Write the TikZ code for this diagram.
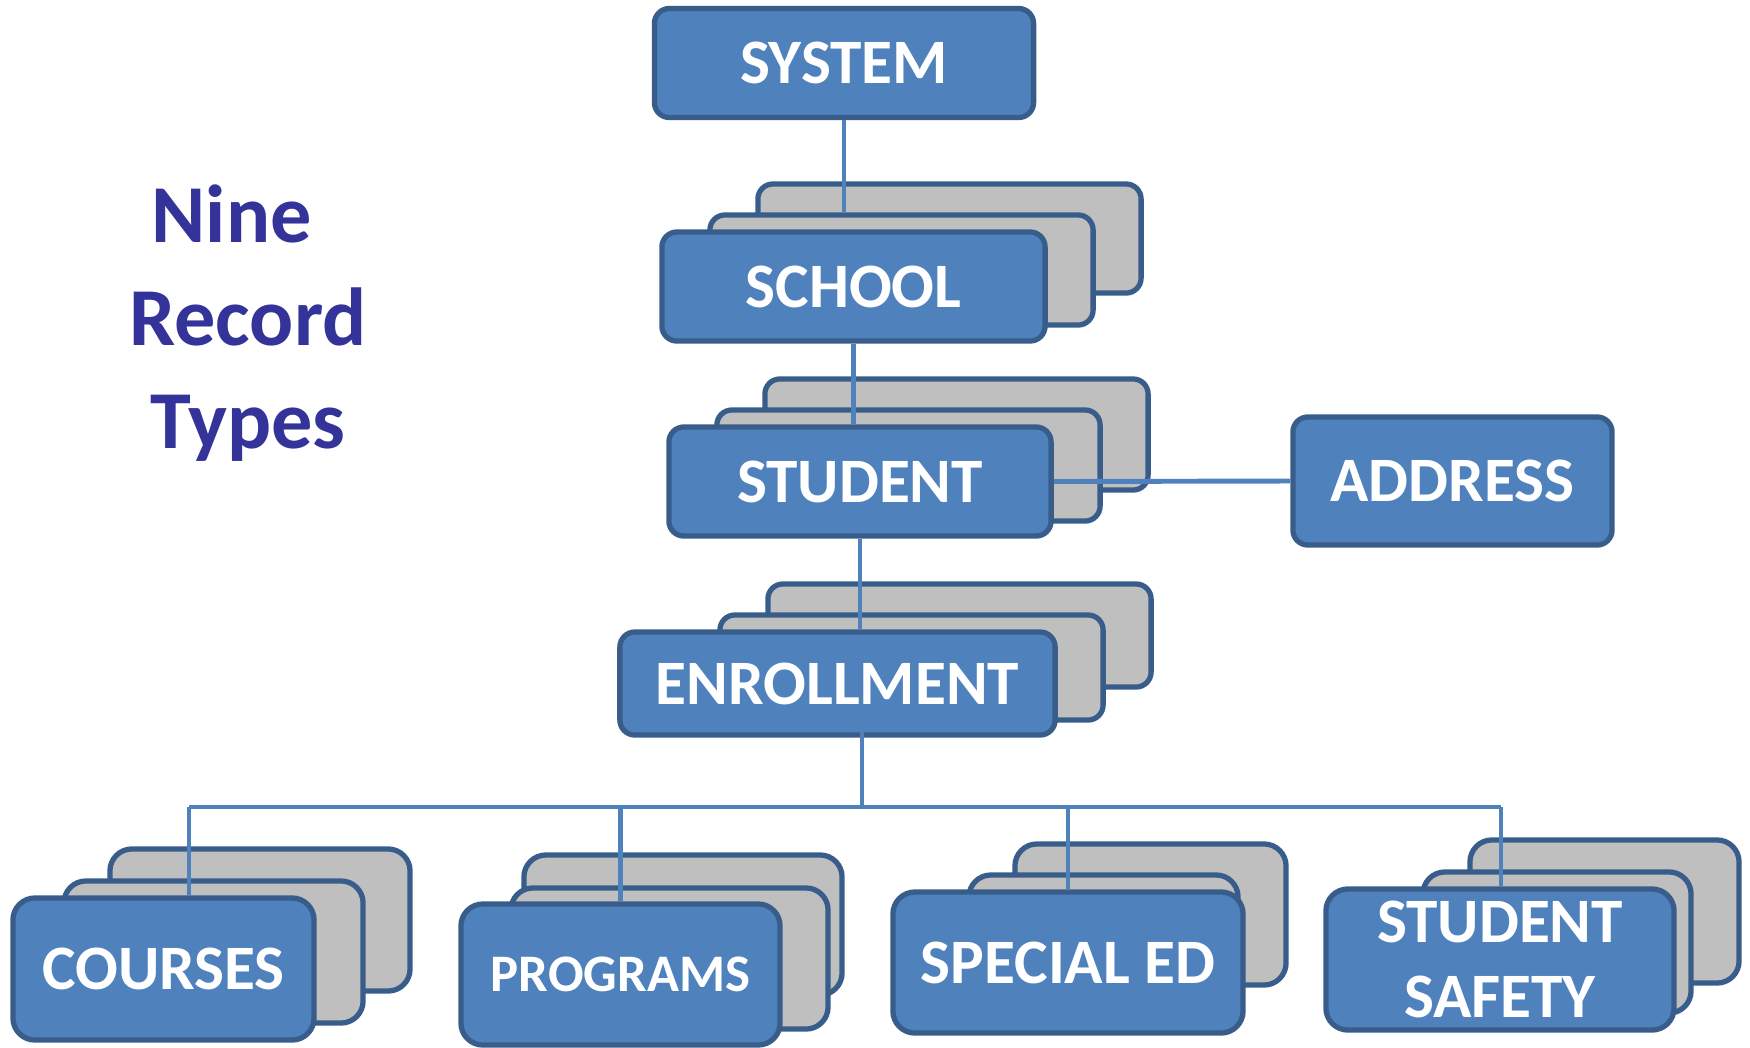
\documentclass[tikz,border=0pt]{standalone}
\usepackage{fontspec}
\setmainfont{Carlito}
\usepackage{tikz}
\definecolor{recblue}{RGB}{79,129,189}
\definecolor{recedge}{RGB}{56,93,138}
\definecolor{recgray}{RGB}{191,191,191}
\definecolor{recink}{RGB}{51,51,153}
\tikzset{
  rec/.style={draw=recedge, line width=1.5pt, fill=recblue, rounded corners=0.15cm,
    inner sep=0pt, text=white, align=center,
    font=\fontsize{18}{21.3}\selectfont\bfseries},
  card/.style={rec, fill=recgray},
  low/.style={rounded corners=0.22cm},
  link/.style={draw=recblue, line width=1.4pt}
}

\begin{document}
\begin{tikzpicture}[x=0.01cm, y=-0.01cm]
\useasboundingbox (0,0) rectangle (1750,1047);

\node[text=recink, align=center, font=\fontsize{23.4}{29.2}\selectfont\bfseries] (title)
  at (248,323) {Nine\hspace*{0.4em}\\Record\\Types};

\node[rec, minimum width=3.79cm, minimum height=1.09cm] (system) at (844,63) {SYSTEM};

\node[card, minimum width=3.83cm, minimum height=1.09cm] (schoolC) at (949.5,238.5) {};
\node[card, minimum width=3.83cm, minimum height=1.10cm] (schoolB) at (901.5,270) {};
\node[rec, minimum width=3.83cm, minimum height=1.09cm] (school) at (853.5,286.5) {SCHOOL};

\node[card, minimum width=3.83cm, minimum height=1.11cm] (studentC) at (956.5,434.5) {};
\node[card, minimum width=3.83cm, minimum height=1.11cm] (studentB) at (908.5,465.5) {};
\node[rec, minimum width=3.82cm, minimum height=1.09cm] (student) at (860,481.5) {STUDENT};

\node[rec, minimum width=3.19cm, minimum height=1.28cm] (address) at (1452.5,481) {ADDRESS};

\node[card, minimum width=3.83cm, minimum height=1.03cm] (enrollC) at (959.5,635.5) {};
\node[card, minimum width=3.83cm, minimum height=1.05cm] (enrollB) at (911.5,667.5) {};
\node[rec, minimum width=4.35cm, minimum height=1.03cm] (enroll) at (837.5,683.5) {ENROLLMENT};

% bottom row
\node[card, low, minimum width=3.00cm, minimum height=1.42cm] (coursesC) at (260,920) {};
\node[card, low, minimum width=2.99cm, minimum height=1.42cm] (coursesB) at (213.5,952) {};
\node[rec, low, minimum width=3.01cm, minimum height=1.42cm] (courses) at (163.5,969) {COURSES};

\node[card, low, minimum width=3.18cm, minimum height=1.40cm] (programsC) at (683,925) {};
\node[card, low, minimum width=3.17cm, minimum height=1.41cm] (programsB) at (669.5,958.5) {};
\node[rec, low, minimum width=3.19cm, minimum height=1.41cm,
  font=\fontsize{15}{18}\selectfont\bfseries] (programs) at (620.5,974.5) {PROGRAMS};

\node[card, low, minimum width=2.71cm, minimum height=1.41cm] (specedC) at (1150.5,914.5) {};
\node[card, low, minimum width=2.69cm, minimum height=1.41cm] (specedB) at (1103.5,945.5) {};
\node[rec, low, minimum width=3.50cm, minimum height=1.41cm] (speced) at (1068,962.5) {SPECIAL ED};

\node[card, low, minimum width=2.69cm, minimum height=1.43cm] (safetyC) at (1604.5,911.5) {};
\node[card, low, minimum width=2.68cm, minimum height=1.41cm] (safetyB) at (1557,942.5) {};
\node[rec, low, minimum width=3.48cm, minimum height=1.41cm] (safety) at (1500,959.5) {STUDENT\\SAFETY};

% connectors
\coordinate (hub) at (862,807);
\coordinate (busW) at (189,807);
\coordinate (busE) at (1501,807);
\draw[link] (system.south) -- (system.south |- schoolB.north);
\draw[link] (school.south) -- (school.south |- student.north);
\draw[link] (student.east) -- (address.west);
\draw[link] (student.south) -- (student.south |- enroll.north);
\draw[link] ([yshift=0.25cm]hub |- enroll.south) -- (hub);
\draw[link] (busW) -- (busE);
\draw[link] (busW) -- (busW |- courses.north);
\draw[link] (programs.north |- hub) -- (programs.north);
\draw[link] (speced.north |- hub) -- (speced.north);
\draw[link] (busE) -- (busE |- safety.north);
\end{tikzpicture}
\end{document}
